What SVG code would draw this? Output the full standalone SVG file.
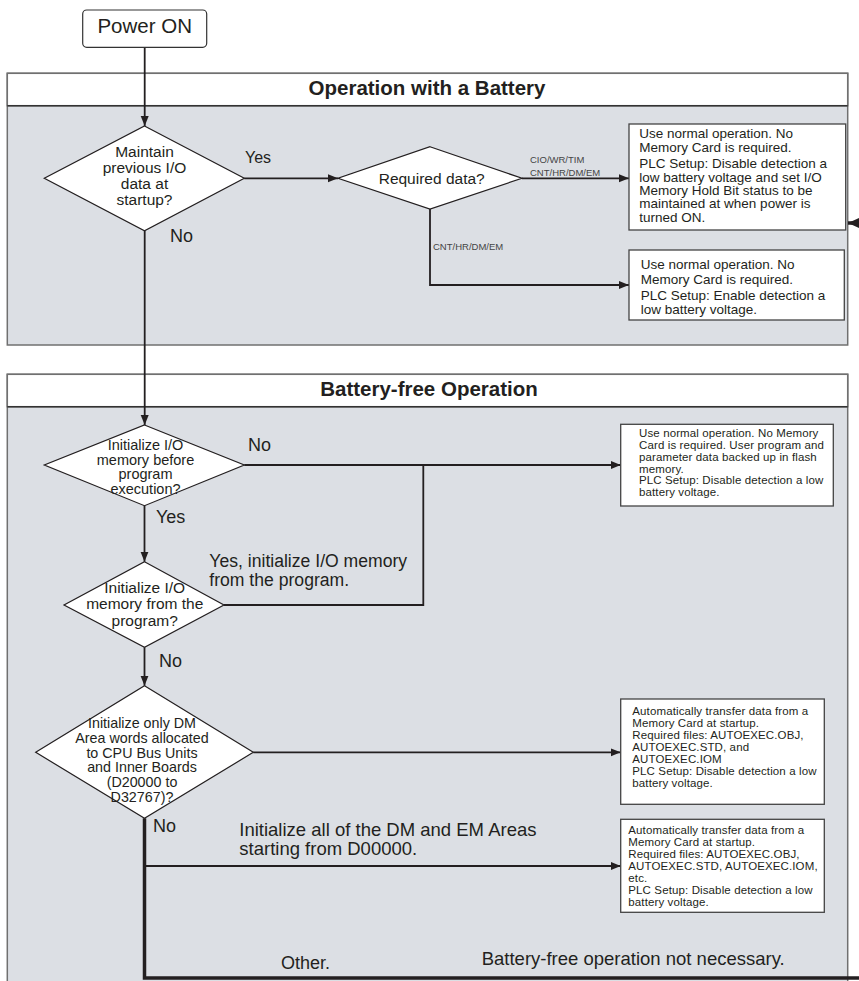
<svg xmlns="http://www.w3.org/2000/svg" width="859" height="981" viewBox="0 0 859 981">
<defs>
<marker id="arr" markerUnits="userSpaceOnUse" markerWidth="12" markerHeight="10" refX="10" refY="4" orient="auto" viewBox="0 0 12 8">
<path d="M0,0 L10,4 L0,8 Z" fill="#231f20"/>
</marker>
<marker id="arrBig" markerUnits="userSpaceOnUse" markerWidth="14" markerHeight="12" refX="12" refY="5.5" orient="auto" viewBox="0 0 14 11">
<path d="M0,0 L12,5.5 L0,11 Z" fill="#231f20"/>
</marker>
<style>
text{font-family:"Liberation Sans",Arial,Helvetica,sans-serif;fill:#231f20}
.panel{fill:#dcdfe4;stroke:#707070;stroke-width:1.5}
.hdr{fill:#ffffff;stroke:#707070;stroke-width:1.5}
.hline{stroke:#333;stroke-width:1.5}
.title{font-size:20.5px;font-weight:bold;text-anchor:middle}
.dia{fill:#ffffff;stroke:#231f20;stroke-width:1.2}
.box{fill:#ffffff;stroke:#444;stroke-width:1.3}
.con{fill:none;stroke:#231f20;stroke-width:1.8}
.thick{fill:none;stroke:#231f20;stroke-width:3.5}
.dt{text-anchor:middle}
.lbl{font-size:18px}
.small{font-size:9.5px;fill:#444}
.bt{font-size:11.5px;letter-spacing:0.12px}
</style>
</defs>

<g id="panel-battery">
<rect class="panel" x="7.3" y="73.3" width="840.4" height="271.7"/>
<rect class="hdr" x="7.3" y="73.3" width="840.4" height="32.4"/>
<line class="hline" x1="7.3" y1="105.7" x2="847.7" y2="105.7"/>
<text class="title" x="427" y="94.5">Operation with a Battery</text>
</g>

<g id="panel-batteryfree">
<rect class="panel" x="7.3" y="374.3" width="840.4" height="610"/>
<rect class="hdr" x="7.3" y="374.3" width="840.4" height="32.4"/>
<line class="hline" x1="7.3" y1="406.7" x2="847.7" y2="406.7"/>
<text class="title" x="429" y="395.5">Battery-free Operation</text>
</g>

<g id="connectors">
<path class="con" d="M144.7,47.3 V126" marker-end="url(#arr)"/>
<path class="con" d="M244.3,178.3 H338" marker-end="url(#arr)"/>
<path class="con" d="M522,178.3 H629" marker-end="url(#arr)"/>
<path class="con" d="M430,209 V285 H629" marker-end="url(#arr)"/>
<path class="con" d="M144.7,230.7 V425" marker-end="url(#arr)"/>
<path class="con" d="M244.3,465 H620.7" marker-end="url(#arr)"/>
<path class="con" d="M224,605 H423.3 V465"/>
<path class="con" d="M144.5,505.7 V561.7" marker-end="url(#arr)"/>
<path class="con" d="M144.5,647.3 V685.7" marker-end="url(#arr)"/>
<path class="con" d="M253.3,752.3 H620.7" marker-end="url(#arr)"/>
<path class="con" d="M144.5,866 H620.7" marker-end="url(#arr)"/>
<path class="thick" d="M144.5,818.3 V978 H866 V223 H848" marker-end="url(#arrBig)"/>
<text class="small" x="530" y="162.5">CIO/WR/TIM</text>
<text class="small" x="530" y="176">CNT/HR/DM/EM</text>
<text class="small" x="433" y="250">CNT/HR/DM/EM</text>
<text style="font-size:16px" x="245" y="163">Yes</text>
<text class="lbl" x="170" y="241.5">No</text>
<text class="lbl" x="248" y="450.5">No</text>
<text class="lbl" x="156" y="523">Yes</text>
<text style="font-size:17.6px" x="209.3" y="566.5">Yes, initialize I/O memory</text>
<text style="font-size:17.6px" x="209.3" y="585.5">from the program.</text>
<text class="lbl" x="159" y="666.5">No</text>
<text class="lbl" x="153" y="831.5">No</text>
<text style="font-size:18.5px" x="239.3" y="836">Initialize all of the DM and EM Areas</text>
<text style="font-size:18.5px" x="239.3" y="855">starting from D00000.</text>
<text class="lbl" x="281" y="969">Other.</text>
<text style="font-size:18.5px" x="481.7" y="964.8">Battery-free operation not necessary.</text>
</g>

<g id="power-on">
<rect x="82.7" y="10" width="124" height="37.3" rx="4" fill="#fff" stroke="#333" stroke-width="1.2"/>
<text x="144.7" y="32.5" style="font-size:20.5px" text-anchor="middle">Power ON</text>
</g>

<g id="d-maintain">
<polygon class="dia" points="144.5,126 244.3,178.3 144.5,230.7 44.3,178.3"/>
<text class="dt" x="144.5" style="font-size:15.5px"><tspan x="144.5" y="156.5">Maintain</tspan><tspan x="144.5" y="172.5">previous I/O</tspan><tspan x="144.5" y="188.5">data at</tspan><tspan x="144.5" y="204.5">startup?</tspan></text>
</g>

<g id="d-required">
<polygon class="dia" points="430,146.7 522,178.3 430,209 338,178.3"/>
<text class="dt" x="431.7" y="183.8" style="font-size:15.5px">Required data?</text>
</g>

<g id="b-normal-hold">
<rect class="box" x="629" y="124" width="216.7" height="106"/>
<text style="font-size:13.5px"><tspan x="639.3" y="138">Use normal operation. No</tspan><tspan x="639.3" y="151.5">Memory Card is required.</tspan><tspan x="639.3" y="168.3">PLC Setup: Disable detection a</tspan><tspan x="639.3" y="181.7">low battery voltage and set I/O</tspan><tspan x="639.3" y="195">Memory Hold Bit status to be</tspan><tspan x="639.3" y="208.3">maintained at when power is</tspan><tspan x="639.3" y="221.7">turned ON.</tspan></text>
</g>

<g id="b-normal-enable">
<rect class="box" x="629" y="250" width="215.3" height="70"/>
<text style="font-size:13.5px"><tspan x="640.7" y="269.3">Use normal operation. No</tspan><tspan x="640.7" y="283.5">Memory Card is required.</tspan><tspan x="640.7" y="300">PLC Setup: Enable detection a</tspan><tspan x="640.7" y="314">low battery voltage.</tspan></text>
</g>

<g id="d-init-before">
<polygon class="dia" points="144.5,425 244.3,465 144.5,505.7 44.3,465"/>
<text class="dt" style="font-size:14.5px"><tspan x="145.5" y="450">Initialize I/O</tspan><tspan x="145.5" y="464.7">memory before</tspan><tspan x="145.5" y="479.3">program</tspan><tspan x="145.5" y="494">execution?</tspan></text>
</g>

<g id="b-flash">
<rect class="box" x="620.7" y="424.3" width="212.6" height="81.7"/>
<text class="bt"><tspan x="639" y="436.6">Use normal operation. No Memory</tspan><tspan x="639" y="448.6">Card is required. User program and</tspan><tspan x="639" y="460.6">parameter data backed up in flash</tspan><tspan x="639" y="472.6">memory.</tspan><tspan x="639" y="484.4">PLC Setup: Disable detection a low</tspan><tspan x="639" y="496.4">battery voltage.</tspan></text>
</g>

<g id="d-init-program">
<polygon class="dia" points="144.5,561.7 224,605 144.5,647.3 64,605"/>
<text class="dt" style="font-size:15.5px"><tspan x="144.7" y="593">Initialize I/O</tspan><tspan x="144.7" y="609.3">memory from the</tspan><tspan x="144.7" y="625.7">program?</tspan></text>
</g>

<g id="d-init-dm">
<polygon class="dia" points="144.5,685.7 253.3,752.3 144.5,818.3 35.7,752.3"/>
<text class="dt" style="font-size:14.3px"><tspan x="142" y="728.3">Initialize only DM</tspan><tspan x="142" y="743">Area words allocated</tspan><tspan x="142" y="757.7">to CPU Bus Units</tspan><tspan x="142" y="772.3">and Inner Boards</tspan><tspan x="142" y="787">(D20000 to</tspan><tspan x="142" y="801.7">D32767)?</tspan></text>
</g>

<g id="b-auto-1">
<rect class="box" x="620.7" y="699" width="203.6" height="105.3"/>
<text class="bt"><tspan x="632.3" y="715.3">Automatically transfer data from a</tspan><tspan x="632.3" y="727.3">Memory Card at startup.</tspan><tspan x="632.3" y="739.3">Required files: AUTOEXEC.OBJ,</tspan><tspan x="632.3" y="751.3">AUTOEXEC.STD, and</tspan><tspan x="632.3" y="763.3">AUTOEXEC.IOM</tspan><tspan x="632.3" y="775.3">PLC Setup: Disable detection a low</tspan><tspan x="632.3" y="787.3">battery voltage.</tspan></text>
</g>

<g id="b-auto-2">
<rect class="box" x="620.7" y="819.3" width="203.6" height="93"/>
<text class="bt"><tspan x="628.3" y="834.3">Automatically transfer data from a</tspan><tspan x="628.3" y="846.3">Memory Card at startup.</tspan><tspan x="628.3" y="858.3">Required files: AUTOEXEC.OBJ,</tspan><tspan x="628.3" y="870.3">AUTOEXEC.STD, AUTOEXEC.IOM,</tspan><tspan x="628.3" y="882.3">etc.</tspan><tspan x="628.3" y="894.3">PLC Setup: Disable detection a low</tspan><tspan x="628.3" y="906.3">battery voltage.</tspan></text>
</g>
</svg>
